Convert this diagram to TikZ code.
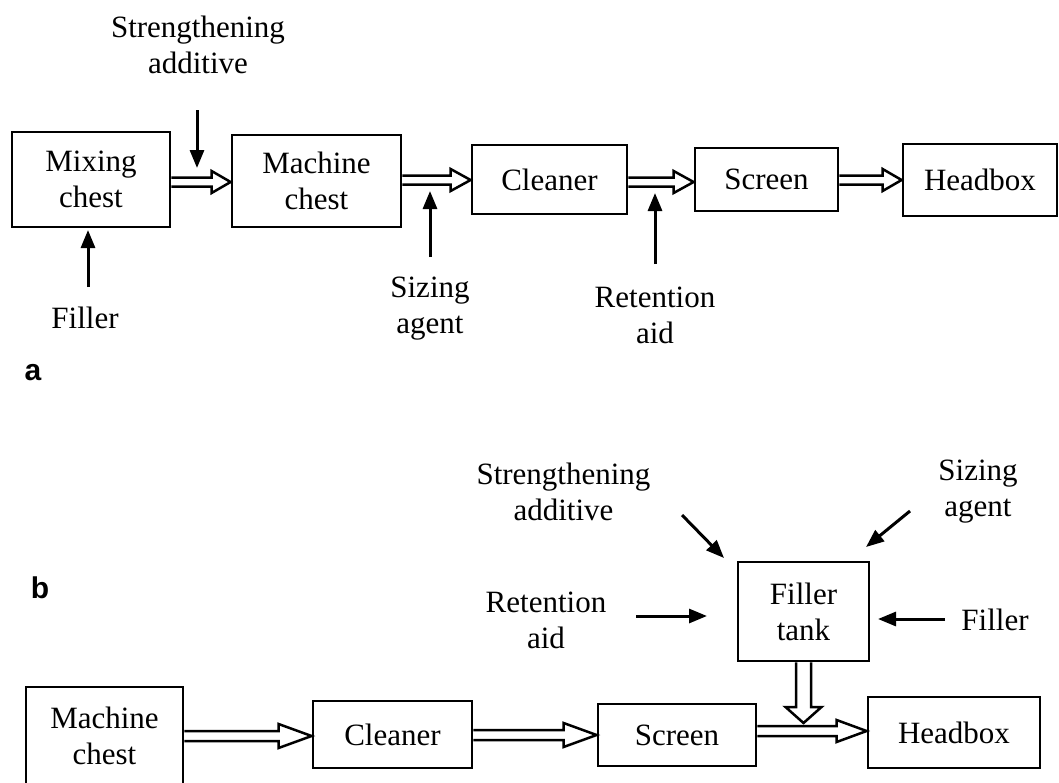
\documentclass[tikz,border=0pt]{standalone}
\usepackage{fontspec}
\setmainfont{Liberation Serif}
\newfontfamily\panelfont{Liberation Sans}
\usetikzlibrary{arrows.meta,calc}

\tikzset{
  unit/.style={draw, line width=2.8pt, align=center, inner sep=0pt,
    font=\fontsize{31}{36}\selectfont},
  lbl/.style={align=center, inner sep=0pt, font=\fontsize{31}{36}\selectfont},
  feed/.style={line width=3pt, -{Triangle[length=18pt,width=14pt]}},
  hollow/.style={line width=2.5pt, line join=miter},
  panel/.style={inner sep=0pt, font=\panelfont\bfseries\fontsize{30}{34}\selectfont}
}

% hollow flow arrow pointing right: start, end, shaft half-width, head half-width, head length
\newcommand\hollowright[5]{%
  \draw[hollow] let \p1=(#1), \p2=(#2) in
    (\x1,\y1+#3) -- (\x2-#5,\y1+#3) -- (\x2-#5,\y1+#4) -- (\x2,\y1)
    -- (\x2-#5,\y1-#4) -- (\x2-#5,\y1-#3) -- (\x1,\y1-#3);}
% hollow flow arrow pointing down
\newcommand\hollowdown[5]{%
  \draw[hollow] let \p1=(#1), \p2=(#2) in
    (\x1+#3,\y1) -- (\x1+#3,\y2+#5) -- (\x1+#4,\y2+#5) -- (\x1,\y2)
    -- (\x1-#4,\y2+#5) -- (\x1-#3,\y2+#5) -- (\x1-#3,\y1);}

\begin{document}
\begin{tikzpicture}[x=1pt, y=-1pt]
\useasboundingbox (0,0) rectangle (1059,782);

% ---------- panel a ----------
\node[panel] (pa) at (33,373) {a};

\node[unit, minimum width=158pt, minimum height=95pt] (mixA) at (91,179.5) {Mixing\\chest};
\node[unit, minimum width=169pt, minimum height=92pt] (machA) at (316.5,181) {Machine\\chest};
\node[unit, minimum width=155pt, minimum height=69pt] (cleanA) at (549.5,179.5) {Cleaner};
\node[unit, minimum width=143pt, minimum height=63pt] (scrA) at (766.5,179.5) {Screen};
\node[unit, minimum width=154pt, minimum height=72pt] (headA) at (980,180) {Headbox};

\node[lbl] (strA) at (198,45) {Strengthening\\additive};
\node[lbl] (fillA) at (85,318) {Filler};
\node[lbl] (sizA) at (430,309) {Sizing\\agent};
\node[lbl] (retA) at (655,315) {Retention\\aid};

\hollowright{mixA.east |- 0,182}{machA.west}{4.5pt}{11pt}{19pt}
\hollowright{machA.east |- 0,180}{cleanA.west}{4.5pt}{11pt}{20pt}
\hollowright{cleanA.east |- 0,182}{scrA.west}{4.5pt}{11pt}{20pt}
\hollowright{scrA.east |- 0,180}{headA.west}{4.5pt}{11pt}{19pt}

\coordinate (strAs) at (197,110);  \coordinate (strAe) at (197,168);
\coordinate (fillAs) at (88,287);  \coordinate (fillAe) at (88,230);
\coordinate (sizAs) at (430,257);  \coordinate (sizAe) at (430,191);
\coordinate (retAs) at (655,264);  \coordinate (retAe) at (655,193);
\draw[feed] (strAs) -- (strAe);
\draw[feed] (fillAs) -- (fillAe);
\draw[feed] (sizAs) -- (sizAe);
\draw[feed] (retAs) -- (retAe);

% ---------- panel b ----------
\node[panel] (pb) at (40,588) {b};

\node[unit, minimum width=157pt, minimum height=98pt] (machB) at (104.5,736) {Machine\\chest};
\node[unit, minimum width=159pt, minimum height=67pt] (cleanB) at (392.5,734.5) {Cleaner};
\node[unit, minimum width=158pt, minimum height=62pt] (scrB) at (677,735) {Screen};
\node[unit, minimum width=172pt, minimum height=71pt] (headB) at (954,732.5) {Headbox};
\node[unit, minimum width=131pt, minimum height=99pt] (tank) at (803.5,611.5) {Filler\\tank};

\node[lbl] (strB) at (563.5,492) {Strengthening\\additive};
\node[lbl] (sizB) at (978,492) {Sizing\\agent};
\node[lbl] (retB) at (546,620) {Retention\\aid};
\node[lbl] (fillB) at (995,620) {Filler};

\hollowright{machB.east |- 0,736}{cleanB.west}{5pt}{12pt}{33pt}
\hollowright{cleanB.east |- 0,735}{scrB.west}{5pt}{12pt}{33pt}
\hollowright{scrB.east |- 0,731}{headB.west}{5pt}{11pt}{30pt}
\coordinate (tankdrop) at (805,723);
\hollowdown{tank.south}{tankdrop}{7.5pt}{18pt}{16pt}

\coordinate (strBs) at (682,515);  \coordinate (strBe) at (724,558);
\coordinate (sizBs) at (910,511);  \coordinate (sizBe) at (866,547);
\coordinate (retBs) at (636,616);  \coordinate (retBe) at (707,616);
\coordinate (fillBs) at (945,619); \coordinate (fillBe) at (878,619);
\draw[feed] (strBs) -- (strBe);
\draw[feed] (sizBs) -- (sizBe);
\draw[feed] (retBs) -- (retBe);
\draw[feed] (fillBs) -- (fillBe);
\end{tikzpicture}
\end{document}
